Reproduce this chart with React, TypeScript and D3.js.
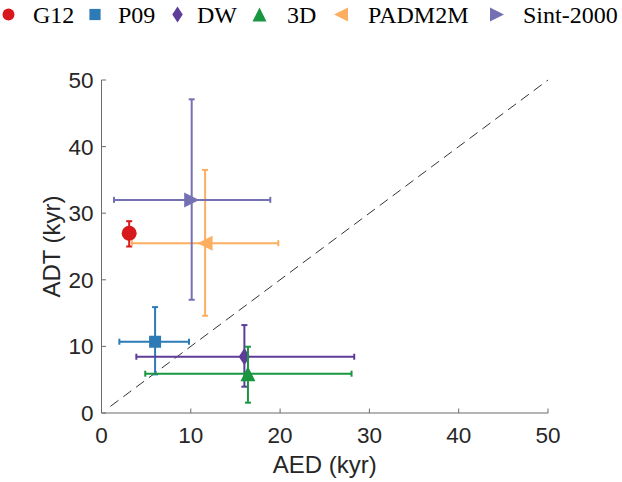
import * as d3 from "d3";

// ---- data ----
const names = ["G12", "P09", "DW", "3D", "PADM2M", "Sint-2000"];
const colors = ["#d7191c", "#2c7bb6", "#5e3c99", "#1a9641", "#fdae61", "#7570b3"];
const shapes = ["circle", "square", "diamond", "up", "left", "right"];
const aed = [3.1, 6.0, 16.0, 16.4, 11.6, 10.1];
const aedLo = [null, 2.0, 3.9, 4.9, 3.4, 1.4];
const aedHi = [null, 9.8, 28.3, 28.0, 19.8, 18.9];
const adt = [27.0, 10.7, 8.45, 5.9, 25.5, 32.0];
const adtLo = [25.0, 5.8, 3.95, 1.55, 14.6, 17.0];
const adtHi = [28.8, 15.9, 13.2, 9.95, 36.5, 47.1];
const ticks = [0, 10, 20, 30, 40, 50];
const oneToOne = [1, 50];

const W = 622;
const H = 482;
const margin = { left: 101.5, right: 74, top: 80, bottom: 69 };
const x = d3.scaleLinear().domain([0, 50]).range([margin.left, W - margin.right]);
const y = d3.scaleLinear().domain([0, 50]).range([H - margin.bottom, margin.top]);

const sans = "'Liberation Sans', Arial, Helvetica, sans-serif";
const serif = "'Liberation Serif', 'Times New Roman', serif";

function markerPath(shape: string, s: number) {
  // s ~ nominal size in px
  const h = s / 2;
  switch (shape) {
    case "circle":
      return d3.symbol(d3.symbolCircle, Math.PI * h * h)() as string;
    case "square":
      return `M${-h * 0.8},${-h * 0.8}H${h * 0.8}V${h * 0.8}H${-h * 0.8}Z`;
    case "diamond":
      return `M0,${-h * 1.15}L${h * 0.75},0L0,${h * 1.15}L${-h * 0.75},0Z`;
    case "up":
      return `M0,${-h}L${h},${h}L${-h},${h}Z`;
    case "left":
      return `M${-h},0L${h},${-h}L${h},${h}Z`;
    default:
      return `M${h},0L${-h},${-h}L${-h},${h}Z`;
  }
}

const cap = 3;

export default function App() {
  const idx = d3.range(names.length);
  const legendX = [8.5, 95, 177.5, 259.5, 341, 497];
  const legendTextX = [33, 118, 197, 287, 368, 523];

  return (
    <svg width={W} height={H} style={{ position: "absolute", left: 0, top: 0 }}>
      <rect width={W} height={H} fill="#fff" />

      {/* legend */}
      {idx.map((i) => (
        <g key={"lg" + i}>
          <path
            d={markerPath(shapes[i], shapes[i] === "circle" ? 12 : 14)}
            transform={`translate(${legendX[i]},14.5)`}
            fill={colors[i]}
          />
          <text x={legendTextX[i]} y={23} fontFamily={serif} fontSize={24} fill="#000">
            {names[i]}
          </text>
        </g>
      ))}

      {/* axes */}
      <g stroke="#6b6b6b" strokeWidth={1} fill="none">
        <line x1={x(0)} x2={x(50)} y1={y(0)} y2={y(0)} />
        <line x1={x(0)} x2={x(0)} y1={y(0)} y2={y(50)} />
        {ticks.map((t) => (
          <line key={"xt" + t} x1={x(t)} x2={x(t)} y1={y(0)} y2={y(0) - 4.5} />
        ))}
        {ticks.map((t) => (
          <line key={"yt" + t} x1={x(0)} x2={x(0) + 4.5} y1={y(t)} y2={y(t)} />
        ))}
      </g>
      <g fontFamily={sans} fontSize={22.5} fill="#262626">
        {ticks.map((t) => (
          <text key={"xl" + t} x={x(t)} y={y(0) + 30} textAnchor="middle">
            {t}
          </text>
        ))}
        {ticks.map((t) => (
          <text key={"yl" + t} x={x(0) - 8} y={y(t) + 8} textAnchor="end">
            {t}
          </text>
        ))}
      </g>
      <text x={(x(0) + x(50)) / 2} y={473} textAnchor="middle" fontFamily={sans} fontSize={24} fill="#262626">
        AED (kyr)
      </text>
      <text
        transform={`translate(60,${(y(0) + y(50)) / 2}) rotate(-90)`}
        textAnchor="middle"
        fontFamily={sans}
        fontSize={24}
        fill="#262626"
      >
        ADT (kyr)
      </text>

      {/* 1:1 line */}
      <line
        x1={x(oneToOne[0])}
        y1={y(oneToOne[0])}
        x2={x(oneToOne[1])}
        y2={y(oneToOne[1])}
        stroke="#333"
        strokeWidth={1}
        strokeDasharray="10,6"
      />

      {/* error bars + markers */}
      {idx.map((i) => {
        const cx = x(aed[i]);
        const cy = y(adt[i]);
        const lo = aedLo[i];
        const hi = aedHi[i];
        return (
          <g key={"s" + i} stroke={colors[i]} strokeWidth={2} fill="none">
            <line x1={cx} x2={cx} y1={y(adtLo[i])} y2={y(adtHi[i])} />
            <line x1={cx - cap} x2={cx + cap} y1={y(adtLo[i])} y2={y(adtLo[i])} />
            <line x1={cx - cap} x2={cx + cap} y1={y(adtHi[i])} y2={y(adtHi[i])} />
            {lo != null && hi != null && (
              <>
                <line x1={x(lo)} x2={x(hi)} y1={cy} y2={cy} />
                <line x1={x(lo)} x2={x(lo)} y1={cy - cap} y2={cy + cap} />
                <line x1={x(hi)} x2={x(hi)} y1={cy - cap} y2={cy + cap} />
              </>
            )}
            <path
              d={markerPath(shapes[i], 15)}
              transform={`translate(${cx},${cy})`}
              fill={colors[i]}
              stroke="none"
            />
          </g>
        );
      })}
    </svg>
  );
}
